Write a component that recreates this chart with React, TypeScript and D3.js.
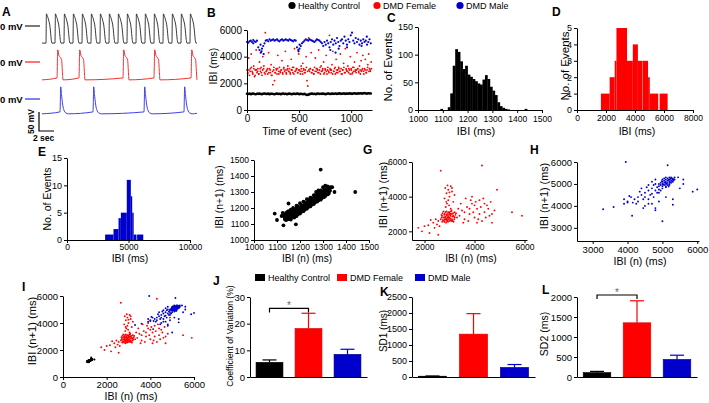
import React, { useEffect, useRef } from 'react';
import * as d3 from 'd3';

const FONT = "'Liberation Sans', Arial, Helvetica, sans-serif";
const RED = '#ff0000';
const BLUE = '#0000cc';
const BLACK = '#000000';

const groups = ['Healthy Control', 'DMD Female', 'DMD Male'];
const groupColors = [BLACK, RED, BLUE];

// ---------- Panel A : action potential traces ----------
const traceDuration = 20.67; // s
const spikesControl = [0.53, 1.73, 2.93, 4.13, 5.33, 6.53, 7.73, 8.93, 10.13, 11.33, 12.53, 13.73, 14.93, 16.13, 17.33, 18.53, 19.73];
const spikesFemale = [2.0, 4.93, 10.8, 14.93, 19.87];
const spikesMale = [2.4, 6.8, 13.6, 18.93];
const apControl = [[0, -45], [0.06, 32], [0.15, 28], [0.35, 16], [0.55, -4], [0.7, -35], [0.8, -45]];
const apFemale = [[0, -42], [0.1, 32], [0.25, 18], [0.45, 12], [0.62, 5], [0.72, -25], [0.8, -47]];
const apMale = [[0, -34], [0.1, 32], [0.2, 12], [0.32, -10], [0.5, -28], [0.8, -37], [1.1, -39]];
const restControl = [-45, -45];
const restFemale = [-47, -42];
const restMale = [-39, -34];

// ---------- Panel B : IBI vs time ----------
const bBlack = [1220,1200,1230,1190,1210,1240,1200,1180,1220,1210,1230,1200,1190,1220,1240,1210,1200,1230,1190,1210,
  1220,1200,1180,1210,1230,1200,1220,1190,1210,1240,1200,1220,1180,1210,1230,1200,1190,1220,1210,1200,
  1230,1210,1190,1220,1200,1180,1210,1160,1120,1150,1190,1210,1230,1200,1220,1190,1210,1240,1200,1220,
  1210,1230,1200,1190,1220,1240,1210,1200,1230,1210,1220,1240,1200,1230,1250,1210,1220,1240,1230,1210,
  1240,1220,1250,1230,1210,1240,1260,1230,1220,1250,1240,1260,1230,1250,1270,1240,1230,1260,1250,1240];
const bBlue = [5100,5050,5150,5200,5100,5000,5150,5100,5200,
  4700,4500,4300,4600,4800,5000,
  5200,5250,5150,5300,5200,5250,5300,5200,5250,5300,5200,5150,5250,5300,5200,5250,5300,5250,5200,5300,5250,5200,5150,5250,5200,
  4700,4500,4600,4800,
  5000,5100,5200,5300,5250,5200,5300,5250,5200,5150,5100,5200,5300,5250,5200,5100,5000,
  4800,5100,4900,5200,5000,4700,5100,5300,4900,5200,5000,5400,5100,4800,5200,
  5300,5000,5500,5200,4900,5300,5100,5600,5800,5200,5000,5400,5100,5300,4900,5200,5000,5300,5100,5200,4900,5100,5300,5000];
const bBlueExtra = [[140, 4400], [160, 4200], [130, 4900], [495, 4400], [505, 4900], [800, 4500], [850, 4300], [880, 4600], [960, 4700], [1100, 4800], [1150, 5500], [60, 5250]];
const bRed = [3000,2800,3900,2600,3100,4200,2900,2700,3300,2500,
  3000,4500,2800,3100,2700,3600,2900,3200,2600,4000,
  3100,2800,5800,2900,3000,2700,4300,3100,2800,3400,
  2600,1900,3000,2200,2800,3100,2700,4100,2900,3200,
  2800,3000,3700,2700,3100,2900,4400,2800,3000,3300,
  2900,3100,2700,3800,3000,2800,3200,4600,2900,3000,
  3100,2800,4200,3000,2700,3300,2900,3500,3100,2800,
  3000,4000,2200,1800,5400,2900,3100,4300,2800,3000,
  2700,3200,3900,2900,3100,2800,4500,3000,2700,3300,
  2900,3100,3600,2800,3000,4100,2700,3200,2900,5600,
  3000,2800,3400,4400,2900,3100,2700,3800,3000,2800,
  3200,2900,4200,3100,2700,3000,3500,2800,4600,3100,
  2900,3300,2800,3000,4000,3100,2700,3200,2900,3600,
  3000,2800,4300,3100,2900,3300,2700,3700,3000,4100,
  2900,3100,3800,2800,3000,3400,4200,3100,2900,3600];
const bRed2 = [2700,3000,2900,3200,2800,3100,2600,3000,2900,2700,3100,2800,3000,3300,2700,2900,3100,2800,3000,2600,
  2900,3200,2800,3000,3100,2700,2900,3000,2800,3200,3000,2700,3100,2900,2800,3000,3200,2700,2900,3100,
  2800,3000,2900,3100,2700,3000,2800,3200,2900,3000,3100,2800,3000,2700,2900,3100,3000,2800,3200,2900,
  3000,2700,3100,2900,3000,2800,3100,3000,2700,2900,3200,2800,3000,3100,2900,2700,3000,3200,2800,3000,
  2900,3100,2700,3000,2800,3200,2900,3000,3100,2800,3000,2900,3100,2700,3000,2800,3200,2900,3000,3100];

// ---------- Histograms ----------
const cBins = [[1090,2],[1120,5],[1130,30],[1140,80],[1150,110],[1160,105],[1170,88],[1180,74],[1190,80],[1200,64],[1210,60],[1220,56],[1230,52],[1240,48],[1250,46],[1260,55],[1270,63],[1280,56],[1290,42],[1300,35],[1310,27],[1320,14],[1330,7],[1340,4],[1350,2],[1360,1],[1430,2]];
const cBinWidth = 10;
const dBins = [[1650,2250,1],[2250,2600,2],[2600,2720,3],[2720,3450,5],[3450,3850,3],[3850,4200,4],[4200,4500,3],[4520,4900,3],[4900,5020,2],[5020,5600,1],[5700,6250,1]];
const eBins = [[3100,3780,1],[3780,4190,2],[4190,4380,4],[4380,4860,5],[4860,5190,11],[5190,5300,8],[5300,5420,5],[5420,5650,1],[5700,6200,1]];

// ---------- Poincare plots ----------
const fPoints = [[1090,1165],[1100,1125],[1128,1092],[1182,1098],[1150,1228],[1290,1440],[1440,1300],[1350,1300],[1335,1330],[1120,1150],[1125,1170],
  [1132,1145],[1135,1155],[1138,1140],[1140,1160],[1142,1148],[1145,1138],[1147,1165],[1150,1150],[1152,1142],[1155,1170],[1157,1158],[1160,1145],[1160,1175],[1163,1162],[1165,1150],[1168,1180],[1170,1165],[1172,1155],[1175,1185],[1177,1170],[1180,1160],[1182,1190],[1185,1175],[1187,1165],[1190,1195],[1192,1180],[1195,1170],[1197,1200],[1200,1188],[1202,1178],[1205,1208],[1207,1195],[1210,1185],[1212,1215],[1215,1202],[1217,1192],[1220,1222],[1222,1210],[1225,1200],[1227,1230],[1230,1218],[1232,1208],[1235,1238],[1237,1225],[1240,1215],[1242,1245],[1245,1232],[1247,1222],[1250,1252],[1252,1240],[1255,1230],[1257,1258],[1260,1246],[1262,1236],[1265,1265],[1267,1252],[1270,1242],[1272,1272],[1275,1260],[1277,1250],[1280,1280],[1282,1266],[1285,1256],[1287,1288],[1290,1274],[1292,1262],[1295,1295],[1297,1282],[1300,1270],[1302,1300],[1305,1288],[1308,1278],[1310,1305],[1312,1292],[1315,1310],[1318,1296],[1320,1315],[1322,1300],[1325,1320],[1328,1305],[1330,1325],
  [1135,1135],[1140,1170],[1145,1150],[1150,1130],[1155,1160],[1160,1138],[1165,1172],[1170,1145],[1175,1160],[1180,1175],[1185,1150],[1190,1210],[1195,1185],[1200,1165],[1205,1220],[1210,1200],[1215,1180],[1220,1235],[1225,1212],[1230,1195],[1235,1250],[1240,1228],[1245,1210],[1250,1262],[1255,1245],[1260,1225],[1265,1278],[1270,1255],[1275,1240],[1280,1290],[1285,1270],[1290,1252],[1295,1305],[1300,1285],[1305,1268],[1310,1318],[1315,1298],[1320,1285],[1325,1330],[1330,1310],[1160,1190],[1170,1195],[1145,1175],[1155,1140],[1185,1200],
  [1140,1125],[1150,1180],[1160,1128],[1170,1200],[1175,1140],[1185,1215],[1190,1160],[1200,1230],[1205,1175],[1215,1240],[1220,1190],[1230,1255],[1235,1205],[1245,1265],[1250,1220],[1260,1280],[1265,1235],[1275,1292],[1280,1248],[1290,1310],[1295,1262],[1305,1320],[1310,1275],[1320,1335],[1325,1290],[1148,1160],[1158,1152],[1168,1168],[1178,1182],[1188,1188],[1198,1195],[1208,1212],[1218,1218],[1228,1225],[1238,1240],[1248,1248],[1258,1255],[1268,1268],[1278,1275],[1288,1282],[1298,1290],[1308,1298],[1318,1308],[1130,1160],[1135,1128],[1340,1330],[1300,1330],[1310,1340],[1280,1310],[1270,1300]];

const gPoints = [[2700,2900],[2750,2800],[2800,3000],[2850,2700],[2900,2900],[2950,3100],[3000,2800],[3050,3000],[3100,2700],[3150,2900],[3200,3100],[2650,2700],[2720,3050],[2780,2600],[2830,2850],[2880,3150],[2930,2650],[2980,2950],[3030,2750],[3080,3200],[3130,2600],[3180,2850],[2690,2800],[2740,2650],[2790,2950],[2840,3100],[2890,2750],[2940,2550],[2990,3050],[3040,2900],[3090,2600],[3140,3050],[3190,2700],[3240,2950],[2710,2550],[2760,3150],[2810,2700],[2860,2500],[2910,3000],[2960,2800],[3010,2600],[3060,3150],[3110,2850],[3160,2550],[3210,2800],[3260,3050],[2870,2950],[2920,2800],[2970,2700],[3020,3000],[2820,2800],[2870,2650],[2950,2880],[3000,3100],[3050,2650],[2900,2600],[2800,2550],[3100,3000],[2680,2950],[3300,2800],
  [2850,3400],[2900,3600],[2950,3800],[3000,4000],[2880,4200],[2950,4400],[3050,4600],[2830,4500],[3100,4300],[2980,3500],[3150,3700],[2800,3900],[3050,3300],[2920,4650],[3200,4100],[3100,4500],[2870,3700],[3000,4250],
  [3400,2900],[3500,3200],[3600,2700],[3700,3400],[3800,3000],[3900,3600],[4000,2800],[4100,3300],[4200,3800],[4300,2600],[4400,3100],[4500,3500],[4600,2900],[4700,2500],[4800,3200],[3450,3600],[3550,2500],[3650,3900],[3750,2600],[3850,3800],[3950,3100],[4050,3700],[4150,2700],[4250,3400],[4350,3900],[4450,2800],[4550,3300],[4650,3700],[3350,3300],[3900,4000],[4200,3000],[4000,3500],[3800,3300],[4100,2500],[4400,3600],[3600,3100],[4700,3000],
  [2650,5500],[4300,5800],[4900,4400],[5500,3100],[5900,2900],
  [1750,2200],[1900,2000],[2150,2350],[2200,1900],[2550,1800],[2250,2650],[2400,2200],[2500,2400],[2600,2300],[2350,2500],[2450,2700],[2550,2600],[2000,2300]];

const hPoints = [[5000,5000],[5100,5100],[5200,5200],[5150,5050],[5250,5150],[5050,4950],[5300,5250],[5100,4900],[5200,5100],[5000,4800],[4900,4900],[5050,5150],[5150,5250],[5250,5300],[5300,5100],[5200,4950],[5100,5200],[4950,5050],[5050,5050],[5150,4950],[5250,5050],[5350,5200],[5200,5300],[5100,5000],[5000,5100],[4900,4750],[4850,4850],[5000,4900],[5100,4850],[5200,5000],[5300,5200],[5350,5300],[5050,5250],[4950,4950],[5150,5150],[5250,5250],[4800,4700],[4900,5000],[5000,5200],[5100,5300],[5220,5080],[5180,5180],[5280,5120],[5120,5020],[5020,4980],[4980,5120],[5080,5080],[5180,4880],[5320,5180],[5230,5230],
  [4700,4800],[4600,4700],[4500,4600],[4400,4500],[4300,4400],[4200,4300],[4100,4400],[4000,4200],[3900,4300],[4650,4500],[4550,4850],[4450,4300],[4350,4650],[4250,4100],[4750,4950],[4700,4550],[4600,4950],[4800,5000],[4850,4600],[4500,4400],[4400,4800],[4300,4200],[4150,4150],[4050,4450],[4750,4400],[4900,4600],[4600,4300],[4800,5200],[4950,4700],[4700,5100],
  [4500,4000],[4700,4100],[4900,4200],[4800,3900],[4600,4100],[5300,4050],[5300,4300],[5100,4400],[4450,3900],[3900,4100],[4000,4150],
  [3300,3850],[3600,3950],[3950,6000],[4130,3550],[5000,3300],[5150,5850],[5870,4650],[6000,4750],[5600,5000],[5500,4800],[5450,5300],[5600,5200],[4800,3800]];

// ---------- Bar charts (mean, mean+SEM) ----------
const cvMean = [5.5, 18.2, 8.5];
const cvUpper = [6.4, 23.9, 10.4];
const sd1Mean = [25, 1340, 300];
const sd1Upper = [32, 1980, 390];
const sd2Mean = [110, 1355, 440];
const sd2Upper = [140, 1905, 545];
const cvBracket = 25.7;
const sd2Bracket = 2050;

const fmt = d3.format('d');

export default function App() {
  const ref = useRef<SVGSVGElement>(null);

  useEffect(() => {
    const svg = d3.select(ref.current);
    svg.selectAll('*').remove();
    svg.append('rect').attr('width', 709).attr('height', 403).attr('fill', '#fff');

    const styleAxis = (g: any, fs: number) => {
      g.attr('font-family', FONT).attr('font-size', fs);
      g.selectAll('path,line').attr('stroke', '#000').attr('stroke-width', 1);
      g.selectAll('text').attr('fill', '#000');
    };
    const leftAxis = (y: any, x: any, ticks: number[], fs: number) => {
      const g = svg.append('g').attr('transform', `translate(${x.range()[0]},0)`)
        .call(d3.axisLeft(y).tickValues(ticks).tickSize(3).tickSizeOuter(0).tickPadding(2).tickFormat(fmt as any));
      styleAxis(g, fs);
    };
    const bottomAxis = (x: any, y: any, ticks: number[], fs: number, pad = 2) => {
      const g = svg.append('g').attr('transform', `translate(0,${y.range()[0]})`)
        .call(d3.axisBottom(x).tickValues(ticks).tickSize(3).tickSizeOuter(0).tickPadding(pad).tickFormat(fmt as any));
      styleAxis(g, fs);
    };
    const label = (s: string, x: number, y: number) => {
      svg.append('text').attr('x', x).attr('y', y).attr('font-family', FONT).attr('font-weight', 'bold').attr('font-size', 12).text(s);
    };
    const xTitle = (s: string, x: number, y: number, fs = 10.5) => {
      svg.append('text').attr('x', x).attr('y', y).attr('text-anchor', 'middle').attr('font-family', FONT).attr('font-size', fs).text(s);
    };
    const yTitle = (s: string, x: number, y: number, fs = 10.5) => {
      svg.append('text').attr('transform', `translate(${x},${y}) rotate(-90)`).attr('text-anchor', 'middle').attr('font-family', FONT).attr('font-size', fs).text(s);
    };

    // ================= Panel A =================
    label('A', 2, 16);
    const aX = d3.scaleLinear().domain([0, traceDuration]).range([42, 197]);
    const traceDefs = [
      { spikes: spikesControl, ap: apControl, rest: restControl, zero: 26, color: '#222', lbl: 30 },
      { spikes: spikesFemale, ap: apFemale, rest: restFemale, zero: 62, color: '#f21a1a', lbl: 66 },
      { spikes: spikesMale, ap: apMale, rest: restMale, zero: 99, color: '#2a2ae6', lbl: 103 },
    ];
    traceDefs.forEach(td => {
      const aY = d3.scaleLinear().domain([0, 50]).range([td.zero, td.zero - 19]);
      const pts: [number, number][] = [[0, td.rest[0]]];
      td.spikes.forEach(s => {
        pts.push([s, td.rest[1]]);
        td.ap.slice(1).forEach(p => pts.push([s + p[0], p[1]]));
      });
      const last = pts[pts.length - 1][0];
      if (last < traceDuration) pts.push([traceDuration, td.rest[0] + 0.3 * (td.rest[1] - td.rest[0])]);
      const line = d3.line<[number, number]>().x(d => aX(d[0])).y(d => aY(d[1])).curve(d3.curveMonotoneX);
      svg.append('path').attr('d', line(pts)).attr('fill', 'none').attr('stroke', td.color).attr('stroke-width', 0.9);
      svg.append('text').attr('x', 0).attr('y', td.lbl).attr('font-family', FONT).attr('font-weight', 'bold').attr('font-size', 9.5).text('0 mV');
      svg.append('line').attr('x1', 25).attr('x2', 40).attr('y1', aY(0)).attr('y2', aY(0)).attr('stroke', td.color).attr('stroke-width', 1.2);
    });
    // scale bar: 50 mV / 2 sec
    const sbY = d3.scaleLinear().domain([0, 50]).range([131, 112]);
    const sbX = d3.scaleLinear().domain([0, 2]).range([39, 54]);
    svg.append('path').attr('d', `M${sbX(0)},${sbY(50)}V${sbY(0)}H${sbX(2)}`).attr('fill', 'none').attr('stroke', '#000').attr('stroke-width', 1.2);
    svg.append('text').attr('transform', `translate(34,${sbY(25)}) rotate(-90)`).attr('text-anchor', 'middle').attr('font-family', FONT).attr('font-weight', 'bold').attr('font-size', 8.5).text('50 mV');
    svg.append('text').attr('x', 33).attr('y', 141).attr('font-family', FONT).attr('font-weight', 'bold').attr('font-size', 8.5).text('2 sec');

    // ================= Panel B =================
    label('B', 207, 17);
    const bX = d3.scaleLinear().domain([0, 1200]).range([247, 372]);
    const bY = d3.scaleLinear().domain([0, 6000]).range([110, 30]);
    const gB = svg.append('g');
    bBlack.forEach((v, i) => gB.append('circle').attr('cx', bX(i * 12)).attr('cy', bY(v)).attr('r', 1.3).attr('fill', BLACK));
    bRed.forEach((v, i) => gB.append('circle').attr('cx', bX(i * 8)).attr('cy', bY(v)).attr('r', 0.9).attr('fill', RED));
    bRed2.forEach((v, i) => gB.append('circle').attr('cx', bX(i * 12 + 6)).attr('cy', bY(v)).attr('r', 0.9).attr('fill', RED));
    bBlue.forEach((v, i) => gB.append('circle').attr('cx', bX(i * 12)).attr('cy', bY(v)).attr('r', 1.1).attr('fill', BLUE));
    bBlueExtra.forEach(p => gB.append('circle').attr('cx', bX(p[0])).attr('cy', bY(p[1])).attr('r', 1.1).attr('fill', BLUE));
    leftAxis(bY, bX, [0, 2000, 4000, 6000], 10);
    bottomAxis(bX, bY, [0, 500, 1000], 10);
    yTitle('IBI (ms)', 217, 66);
    xTitle('Time of event (sec)', 307, 135);
    // legend (top)
    const legX = [292, 377, 460];
    groups.forEach((gname, i) => {
      svg.append('circle').attr('cx', legX[i]).attr('cy', 5.5).attr('r', 3.6).attr('fill', groupColors[i]);
      svg.append('text').attr('x', legX[i] + 6).attr('y', 9).attr('font-family', FONT).attr('font-size', 9).text(gname);
    });

    // ================= Panel C =================
    label('C', 387, 22);
    const cX = d3.scaleLinear().domain([1000, 1500]).range([418, 542]);
    const cY = d3.scaleLinear().domain([0, 150]).range([110, 27]);
    cBins.forEach(b => svg.append('rect').attr('x', cX(b[0])).attr('width', cX(b[0] + cBinWidth) - cX(b[0]) + 0.3)
      .attr('y', cY(b[1])).attr('height', cY(0) - cY(b[1])).attr('fill', BLACK));
    leftAxis(cY, cX, [0, 50, 100, 150], 9);
    bottomAxis(cX, cY, [1000, 1100, 1200, 1300, 1400, 1500], 8.5, 3);
    yTitle('No. of Events', 392, 67, 11.5);
    xTitle('IBI (ms)', 476, 135, 11);

    // ================= Panel D =================
    label('D', 552, 16);
    const dX = d3.scaleLinear().domain([0, 8000]).range([577, 693]);
    const dY = d3.scaleLinear().domain([0, 5]).range([110, 28]);
    dBins.forEach(b => svg.append('rect').attr('x', dX(b[0])).attr('width', dX(b[1]) - dX(b[0]))
      .attr('y', dY(b[2])).attr('height', dY(0) - dY(b[2])).attr('fill', RED));
    leftAxis(dY, dX, [0, 1, 2, 3, 4, 5], 9);
    bottomAxis(dX, dY, [0, 2000, 4000, 6000, 8000], 8.5);
    yTitle('No. of Events', 569, 66, 11.5);
    xTitle('IBI (ms)', 637, 135, 10.5);

    // ================= Panel E =================
    label('E', 38, 156);
    const eX = d3.scaleLinear().domain([0, 10000]).range([67, 190]);
    const eY = d3.scaleLinear().domain([0, 15]).range([240, 158]);
    eBins.forEach(b => svg.append('rect').attr('x', eX(b[0])).attr('width', eX(b[1]) - eX(b[0]))
      .attr('y', eY(b[2])).attr('height', eY(0) - eY(b[2])).attr('fill', BLUE));
    leftAxis(eY, eX, [0, 5, 10, 15], 9);
    bottomAxis(eX, eY, [0, 5000, 10000], 8.5, 1);
    yTitle('No. of Events', 51, 199, 10.5);
    xTitle('IBI (ms)', 130, 262, 10.5);

    // ================= Panel F =================
    label('F', 208, 155);
    const fX = d3.scaleLinear().domain([1000, 1500]).range([254, 369]);
    const fY = d3.scaleLinear().domain([1000, 1500]).range([240, 160]);
    fPoints.forEach(p => svg.append('circle').attr('cx', fX(p[0])).attr('cy', fY(p[1])).attr('r', 1.9).attr('fill', BLACK));
    leftAxis(fY, fX, [1000, 1100, 1200, 1300, 1400, 1500], 8.5);
    bottomAxis(fX, fY, [1000, 1100, 1200, 1300, 1400, 1500], 8.5, 1);
    yTitle('IBI (n+1) (ms)', 223, 197, 10.3);
    xTitle('IBI (n) (ms)', 307, 262, 10);

    // ================= Panel G =================
    label('G', 363, 154);
    const gX = d3.scaleLinear().domain([1500, 6100]).range([412, 527]);
    const gY = d3.scaleLinear().domain([1500, 6000]).range([240, 162]);
    gPoints.forEach(p => svg.append('circle').attr('cx', gX(p[0])).attr('cy', gY(p[1])).attr('r', 0.95).attr('fill', RED));
    leftAxis(gY, gX, [2000, 4000, 6000], 8.5);
    bottomAxis(gX, gY, [2000, 4000, 6000], 8.5, 1);
    yTitle('IBI (n+1) (ms)', 387, 195, 10.8);
    xTitle('IBI (n) (ms)', 471, 262, 10.3);

    // ================= Panel H =================
    label('H', 530, 154);
    const hX = d3.scaleLinear().domain([2550, 6050]).range([577, 699]);
    const hY = d3.scaleLinear().domain([2400, 6000]).range([241, 162]);
    hPoints.forEach(p => svg.append('circle').attr('cx', hX(p[0])).attr('cy', hY(p[1])).attr('r', 0.95).attr('fill', BLUE));
    leftAxis(hY, hX, [3000, 4000, 5000, 6000], 9.5);
    bottomAxis(hX, hY, [3000, 4000, 5000, 6000], 9.5, 2);
    yTitle('IBI (n+1) (ms)', 548, 196, 10.8);
    xTitle('IBI (n) (ms)', 640, 265, 10.6);

    // ================= Panel I =================
    label('I', 22, 291);
    const iX = d3.scaleLinear().domain([0, 6000]).range([63, 194]);
    const iY = d3.scaleLinear().domain([0, 6000]).range([377, 296]);
    fPoints.forEach(p => svg.append('circle').attr('cx', iX(p[0])).attr('cy', iY(p[1])).attr('r', 1).attr('fill', BLACK));
    gPoints.forEach(p => svg.append('circle').attr('cx', iX(p[0])).attr('cy', iY(p[1])).attr('r', 0.95).attr('fill', RED));
    hPoints.forEach(p => svg.append('circle').attr('cx', iX(p[0])).attr('cy', iY(p[1])).attr('r', 0.95).attr('fill', BLUE));
    leftAxis(iY, iX, [0, 2000, 4000, 6000], 9.5);
    bottomAxis(iX, iY, [0, 2000, 4000, 6000], 9.5, 1);
    yTitle('IBI (n+1) (ms)', 36, 331, 11.2);
    xTitle('IBI (n) (ms)', 131, 400, 10.6);

    // ================= Bar panels J, K, L =================
    const barPanel = (range: [number, number], y: any, means: number[], uppers: number[], ticks: number[], fs: number) => {
      const x = d3.scaleBand().domain(groups).range(range).paddingInner(0.31).paddingOuter(0.155);
      groups.forEach((gname, i) => {
        const cx = (x(gname) as number) + x.bandwidth() / 2;
        svg.append('line').attr('x1', cx).attr('x2', cx).attr('y1', y(means[i])).attr('y2', y(uppers[i])).attr('stroke', groupColors[i]).attr('stroke-width', 1.2);
        svg.append('line').attr('x1', cx - 7).attr('x2', cx + 7).attr('y1', y(uppers[i])).attr('y2', y(uppers[i])).attr('stroke', groupColors[i]).attr('stroke-width', 1.2);
        svg.append('rect').attr('x', x(gname) as number).attr('width', x.bandwidth()).attr('y', y(means[i])).attr('height', y(0) - y(means[i]))
          .attr('fill', groupColors[i]).attr('stroke', i === 2 ? '#000088' : i === 1 ? '#e00000' : '#000').attr('stroke-width', 0.6);
      });
      const gx = svg.append('g').attr('transform', `translate(0,${y.range()[0]})`).call(d3.axisBottom(x).tickValues([]).tickSizeOuter(0));
      styleAxis(gx, 9);
      const gy = svg.append('g').attr('transform', `translate(${range[0]},0)`)
        .call(d3.axisLeft(y).tickValues(ticks).tickSize(3).tickSizeOuter(0).tickPadding(2).tickFormat(fmt as any));
      styleAxis(gy, fs);
      return x;
    };
    const bracket = (x: any, y: any, v: number) => {
      const x1 = x(groups[0]) + x.bandwidth() / 2;
      const x2 = x(groups[1]) + x.bandwidth() / 2;
      svg.append('path').attr('d', `M${x1},${y(v) + 4}V${y(v)}H${x2}V${y(v) + 4}`).attr('fill', 'none').attr('stroke', '#000').attr('stroke-width', 1.2);
      svg.append('text').attr('x', (x1 + x2) / 2).attr('y', y(v) + 1).attr('text-anchor', 'middle').attr('font-family', FONT).attr('font-size', 10).attr('fill', '#666').text('*');
    };

    // J
    label('J', 213, 285);
    const jY = d3.scaleLinear().domain([0, 30]).range([377, 297]);
    const jX = barPanel([250, 367], jY, cvMean, cvUpper, [0, 10, 20, 30], 9.5);
    bracket(jX, jY, cvBracket);
    yTitle('Coefficient of Variation (%)', 233, 336, 8.6);
    // legend (row 3)
    const leg3X = [255, 337, 415];
    groups.forEach((gname, i) => {
      svg.append('rect').attr('x', leg3X[i]).attr('y', 274).attr('width', 10).attr('height', 7).attr('fill', groupColors[i]);
      svg.append('text').attr('x', leg3X[i] + 13).attr('y', 281).attr('font-family', FONT).attr('font-size', 9).text(gname);
    });

    // K
    label('K', 380, 296);
    const kY = d3.scaleLinear().domain([0, 2500]).range([377, 297]);
    barPanel([412, 535], kY, sd1Mean, sd1Upper, [0, 500, 1000, 1500, 2000, 2500], 9);
    yTitle('SD1 (ms)', 387, 331, 10);

    // L
    label('L', 542, 294);
    const lY = d3.scaleLinear().domain([0, 2000]).range([377, 297]);
    const lX = barPanel([577, 697], lY, sd2Mean, sd2Upper, [0, 500, 1000, 1500, 2000], 9.5);
    bracket(lX, lY, sd2Bracket);
    yTitle('SD2 (ms)', 548, 334, 10.5);
  }, []);

  return (
    <svg ref={ref} width={709} height={403} style={{ position: 'absolute', left: 0, top: 0, display: 'block' }} />
  );
}
